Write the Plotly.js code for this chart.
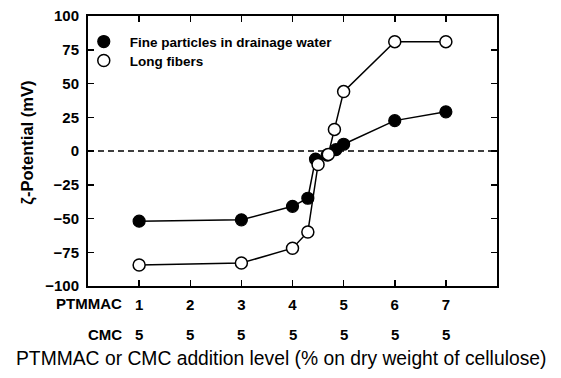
<!DOCTYPE html>
<html><head><meta charset="utf-8">
<script src="https://cdn.plot.ly/plotly-3.0.1.min.js"></script>
<style>html,body{margin:0;padding:0;background:#fff}</style>
</head><body><div id="chart" style="width:561px;height:378px"></div>
<script>
const fineX = [1, 3, 4, 4.3, 4.45, 4.68, 4.85, 5, 6, 7];
const fineY = [-52, -51, -41, -35, -6, -3, 1, 5, 22.5, 29];
const fiberX = [1, 3, 4, 4.3, 4.5, 4.7, 4.82, 5, 6, 7];
const fiberY = [-84.5, -83, -72, -60, -10, -2.5, 16, 44, 81, 81];
const tickVals = [1, 2, 3, 4, 5, 6, 7];
const ptmmacLabels = ['1', '2', '3', '4', '5', '6', '7'];
const cmcLabels = ['5', '5', '5', '5', '5', '5', '5'];
const seriesNames = ['Fine particles in drainage water', 'Long fibers'];
const rowNames = ['PTMMAC', 'CMC'];
const yTitle = 'ζ-Potential (mV)';
const xTitle = 'PTMMAC or CMC addition level (% on dry weight of cellulose)';

const FONT = 'Liberation Sans, Arial, sans-serif';
const boldFont = (s) => ({family: FONT, size: s, color: '#000', weight: 700});

const traces = [
  {x: fineX, y: fineY, mode: 'lines', line: {color: '#000', width: 1.5}, showlegend: false, hoverinfo: 'skip'},
  {x: fineX, y: fineY, mode: 'markers', name: seriesNames[0], legend: 'legend',
   marker: {symbol: 'circle', size: 12, color: '#000', line: {color: '#000', width: 1.2}}},
  {x: fiberX, y: fiberY, mode: 'lines', line: {color: '#000', width: 1.5}, showlegend: false, hoverinfo: 'skip'},
  {x: fiberX, y: fiberY, mode: 'markers', name: seriesNames[1], legend: 'legend2',
   marker: {symbol: 'circle', size: 12, color: '#fff', line: {color: '#000', width: 1.5}}}
];

const annotations = [
  {text: rowNames[0], xref: 'paper', yref: 'paper', x: 0.088, y: -0.063, xanchor: 'right', yanchor: 'middle', showarrow: false, font: boldFont(15)},
  {text: rowNames[1], xref: 'paper', yref: 'paper', x: 0.088, y: -0.181, xanchor: 'right', yanchor: 'middle', showarrow: false, font: boldFont(15)},
  {text: xTitle, xref: 'paper', yref: 'paper', x: 0.472, y: -0.267, xanchor: 'center', yanchor: 'middle', showarrow: false,
   font: {family: FONT, size: 19.3, color: '#000'}},
  {text: yTitle, xref: 'paper', yref: 'paper', x: -0.1467, y: 0.531, xanchor: 'center', yanchor: 'middle', showarrow: false,
   textangle: -90, font: boldFont(16.5)}
];
tickVals.forEach((v, i) => annotations.push({
  text: cmcLabels[i], xref: 'x', yref: 'paper', x: v, y: -0.181, xanchor: 'center', yanchor: 'middle', showarrow: false, font: boldFont(15)
}));

const legendBase = {x: -0.025, xanchor: 'left', yanchor: 'top', bgcolor: 'rgba(0,0,0,0)',
                    font: boldFont(13.5), itemwidth: 42};

const layout = {
  width: 561, height: 378,
  margin: {l: 88, r: 64, t: 16, b: 92},
  paper_bgcolor: '#fff', plot_bgcolor: '#fff',
  font: {family: FONT, color: '#000'},
  showlegend: true,
  legend: Object.assign({}, legendBase, {y: 0.962}),
  legend2: Object.assign({}, legendBase, {y: 0.892}),
  xaxis: {
    range: [0, 8], tickmode: 'array', tickvals: tickVals, ticktext: ptmmacLabels,
    ticks: 'inside', ticklen: 6, tickwidth: 1.5, tickcolor: '#000',
    showline: true, linecolor: '#000', linewidth: 2, mirror: 'ticks',
    showgrid: false, zeroline: false, tickfont: boldFont(15), ticklabelstandoff: 4
  },
  yaxis: {
    range: [-100, 100], dtick: 25, tick0: 0,
    ticks: 'inside', ticklen: 6, tickwidth: 1.5, tickcolor: '#000',
    showline: true, linecolor: '#000', linewidth: 2, mirror: 'ticks',
    showgrid: false, zeroline: false, tickfont: boldFont(15), ticklabelstandoff: 4
  },
  shapes: [{type: 'line', xref: 'paper', yref: 'y', x0: 0, x1: 1, y0: 0, y1: 0,
            line: {color: '#000', width: 1.3, dash: '6px,4px'}, layer: 'below'}],
  annotations: annotations
};

Plotly.newPlot('chart', traces, layout, {displayModeBar: false, staticPlot: true});
</script></body></html>
